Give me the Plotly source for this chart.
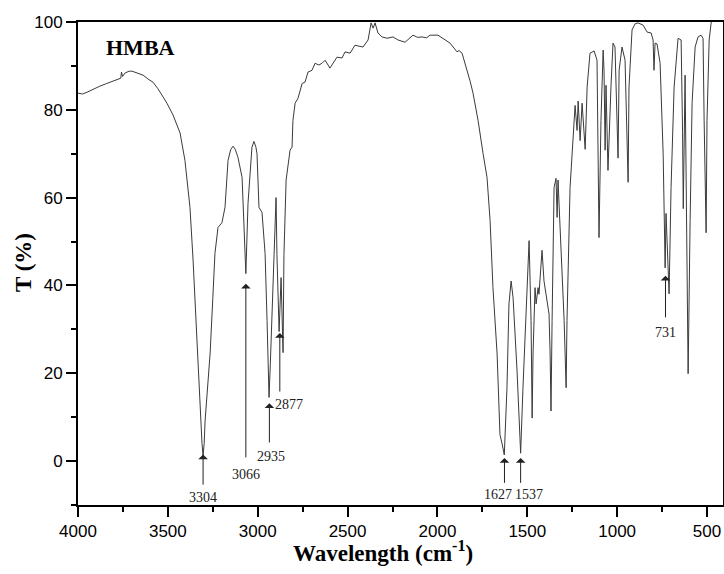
import plotly.graph_objects as go

wavenumber = [4000, 3975, 3950, 3920, 3878, 3840, 3805, 3780, 3762, 3758, 3752, 3738, 3715, 3699,
              3670, 3638, 3610, 3583, 3555, 3527, 3505, 3471, 3445, 3432, 3405, 3393, 3377, 3360,
              3345, 3330, 3318, 3310, 3304, 3298, 3293, 3280, 3265, 3250, 3238, 3221, 3199, 3182,
              3165, 3150, 3137, 3125, 3110, 3087, 3076, 3066, 3054, 3040, 3032, 3021, 3010, 3004,
              2993, 2976, 2959, 2948, 2937, 2930, 2920, 2909, 2898, 2893, 2881, 2870, 2859, 2854,
              2842, 2831, 2820, 2809, 2804, 2792, 2776, 2753, 2737, 2720, 2698, 2681, 2660, 2642,
              2625, 2598, 2559, 2531, 2514, 2486, 2459, 2414, 2386, 2369, 2358, 2347, 2331, 2308,
              2280, 2247, 2219, 2180, 2136, 2110, 2086, 2060, 2041, 1997, 1958, 1930, 1891, 1880,
              1863, 1830, 1818, 1802, 1780, 1774, 1746, 1735, 1724, 1707, 1691, 1668, 1652, 1640,
              1628, 1613, 1602, 1590, 1579, 1557, 1537, 1524, 1501, 1490, 1479, 1473, 1468, 1457,
              1451, 1440, 1435, 1418, 1407, 1390, 1379, 1373, 1368, 1362, 1351, 1340, 1334, 1329,
              1312, 1307, 1295, 1284, 1279, 1262, 1245, 1234, 1223, 1217, 1206, 1195, 1178, 1167,
              1151, 1128, 1112, 1106, 1101, 1090, 1078, 1073, 1067, 1062, 1051, 1034, 1023, 1012,
              995, 989, 973, 956, 939, 934, 917, 900, 884, 856, 833, 811, 800, 795, 789, 778, 761,
              744, 733, 728, 722, 711, 700, 683, 661, 644, 636, 632, 622, 616, 611, 605, 594, 583,
              566, 550, 533, 522, 516, 505, 500, 488, 477, 460, 411]
transmittance = [83.8, 83.6, 84.0, 84.6, 85.4, 86.0, 86.5, 87.0, 87.2, 88.6, 87.6, 88.4, 88.8, 88.8,
                 88.3, 87.9, 87.0, 86.3, 84.8, 82.9, 81.5, 78.8, 76.0, 74.7, 68.5, 64.0, 57.8, 46.0,
                 33.0, 20.0, 10.0, 4.0, 1.2, 4.0, 9.1, 16.0, 24.4, 37.0, 47.3, 53.2, 54.3, 57.8,
                 68.5, 71.0, 71.7, 71.0, 69.2, 64.6, 54.8, 42.7, 58.7, 67.0, 71.5, 72.8, 71.5, 70.0,
                 57.8, 56.6, 47.3, 32.0, 14.5, 22.0, 32.0, 47.0, 60.0, 47.0, 29.5, 41.8, 24.7, 47.0,
                 64.0, 67.0, 70.8, 71.5, 77.6, 81.5, 82.6, 86.0, 86.3, 88.6, 89.0, 90.6, 90.2, 90.6,
                 91.3, 89.5, 92.0, 91.8, 93.2, 92.9, 94.7, 94.3, 95.9, 99.8, 98.6, 99.8, 97.5, 96.6,
                 96.3, 96.6, 95.9, 95.4, 97.0, 96.5, 96.6, 96.4, 97.0, 97.0, 95.9, 95.2, 93.2, 93.5,
                 92.9, 88.4, 86.5, 83.8, 79.0, 77.6, 70.0, 67.0, 64.6, 54.8, 39.5, 24.4, 6.0, 3.9,
                 1.4, 16.7, 35.8, 41.0, 37.2, 20.5, 1.8, 16.7, 41.0, 50.2, 32.0, 9.8, 24.4, 39.5,
                 35.8, 39.5, 38.0, 48.0, 41.0, 35.8, 33.5, 24.4, 11.4, 32.0, 62.3, 64.4, 55.5, 64.0,
                 48.6, 46.3, 32.0, 16.7, 32.0, 62.3, 75.3, 81.0, 75.3, 82.0, 73.0, 81.5, 71.0, 85.2,
                 92.9, 93.4, 91.3, 73.7, 50.9, 77.6, 93.6, 89.0, 70.8, 85.6, 66.2, 85.6, 95.2, 94.3,
                 69.0, 89.0, 94.3, 91.3, 63.5, 85.2, 98.2, 99.6, 99.8, 99.3, 97.7, 97.5, 95.9, 89.0, 95.2, 95.0, 90.6,
                 70.0, 44.0, 56.4, 50.9, 38.1, 62.3, 85.2, 96.3, 95.9, 75.0, 57.5, 87.9, 62.3, 32.0, 19.9, 54.8, 81.5,
                 94.3, 96.6, 97.0, 96.3, 77.6, 52.0, 77.6, 95.9, 99.8, 101.0, 101.0]

peak_labels = ["3304", "3066", "2935", "2877", "1627", "1537", "731"]
peak_pos = [3304, 3066, 2935, 2877, 1627, 1537, 731]
arrow_head = [1.5, 40.4, 13.2, 29.2, 0.7, 0.7, 42.2]
arrow_tail = [-5.7, 0.5, 3.9, 15.5, -5.3, -5.3, 32.4]
label_x = [3304, 3066, 2926, 2915, 1663, 1490, 731]
label_y = [-8.4, -3.0, 1.1, 13.0, -7.5, -7.5, 29.2]
label_anchor = ["center", "center", "center", "left", "center", "center", "center"]

fig = go.Figure()
fig.add_trace(go.Scatter(x=wavenumber, y=transmittance, mode="lines",
                         line=dict(color="#3a3a3a", width=1), hoverinfo="skip"))

ann = []
for lab, xp, yh, yt, lx, ly, anc in zip(peak_labels, peak_pos, arrow_head, arrow_tail,
                                        label_x, label_y, label_anchor):
    ann.append(dict(x=xp, y=yh, ax=xp, ay=yt, xref="x", yref="y", axref="x", ayref="y",
                    showarrow=True, arrowhead=1, arrowsize=1.6, arrowwidth=1,
                    arrowcolor="#222222", standoff=0, text=""))
    ann.append(dict(x=lx, y=ly, xref="x", yref="y", text=lab, showarrow=False,
                    xanchor=anc, yanchor="middle",
                    font=dict(family="Liberation Serif", size=14, color="#222222")))
ann.append(dict(x=3650, y=94.2, xref="x", yref="y", text="HMBA", showarrow=False,
                font=dict(family="Liberation Serif", size=22, color="black", weight="bold")))
ann.append(dict(x=0.473, y=-0.097, xref="paper", yref="paper", text="Wavelength (cm<sup>-1</sup>)",
                showarrow=False, xanchor="center", yanchor="middle",
                font=dict(family="Liberation Serif", size=23, color="black", weight="bold")))
ann.append(dict(x=-0.0853, y=0.503, xref="paper", yref="paper", text="T (%)", textangle=-90,
                showarrow=False, xanchor="center", yanchor="middle",
                font=dict(family="Liberation Serif", size=23, color="black", weight="bold")))

fig.update_layout(
    width=724, height=574,
    margin=dict(l=78, r=1, t=22, b=69, autoexpand=False),
    paper_bgcolor="white", plot_bgcolor="white",
    showlegend=False,
    annotations=ann,
    xaxis=dict(range=[4000, 411], tickvals=[4000, 3500, 3000, 2500, 2000, 1500, 1000, 500],
               automargin=False,
               ticks="outside", ticklen=10, tickwidth=1.5, tickcolor="black",
               minor=dict(ticks="outside", ticklen=5, tickwidth=1.5, tickcolor="black", dtick=250, tick0=0),
               showline=True, linewidth=2, linecolor="black", mirror=True,
               showgrid=False, zeroline=False,
               tickfont=dict(family="Liberation Sans", size=17, color="black")),
    yaxis=dict(range=[-10, 100], tickvals=[0, 20, 40, 60, 80, 100],
               automargin=False,
               ticks="outside", ticklen=10, tickwidth=1.5, tickcolor="black",
               minor=dict(ticks="outside", ticklen=5, tickwidth=1.5, tickcolor="black", dtick=10, tick0=0),
               showline=True, linewidth=2, linecolor="black", mirror=True,
               showgrid=False, zeroline=False,
               tickfont=dict(family="Liberation Sans", size=17, color="black")),
)

fig.write_html("out.html", config={"displayModeBar": False},
               post_script="document.body.style.margin='0';document.body.style.overflow='hidden';")
